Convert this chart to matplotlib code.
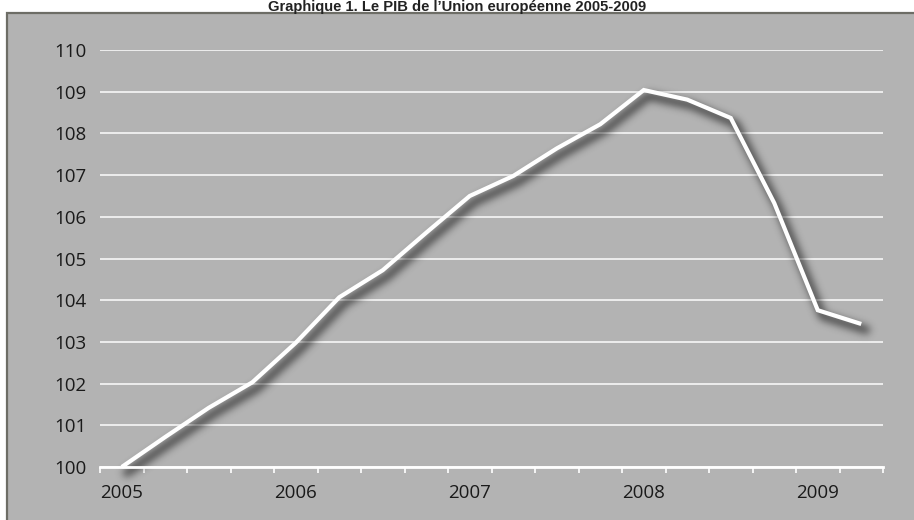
import numpy as np
import matplotlib
matplotlib.use("Agg")
import matplotlib.pyplot as plt
from matplotlib.patches import Rectangle
from matplotlib.ticker import FixedLocator

# Quarterly EU GDP index (2005 Q1 = 100)
quarters = ["2005T1", "2005T2", "2005T3", "2005T4",
            "2006T1", "2006T2", "2006T3", "2006T4",
            "2007T1", "2007T2", "2007T3", "2007T4",
            "2008T1", "2008T2", "2008T3", "2008T4",
            "2009T1", "2009T2"]
gdp_index = [100.0, 100.72, 101.42, 102.03,
             102.98, 104.07, 104.72, 105.62,
             106.50, 106.98, 107.64, 108.22,
             109.04, 108.81, 108.37, 106.33,
             103.76, 103.43]
year_labels = ["2005", "2006", "2007", "2008", "2009"]
y_ticks = [100, 101, 102, 103, 104, 105, 106, 107, 108, 109, 110]

title = "Graphique 1. Le PIB de l\u2019Union européenne 2005-2009"

W, H = 914, 520
fig = plt.figure(figsize=(W / 100, H / 100), dpi=100)
fig.patch.set_facecolor("white")

# grey panel behind the chart
panel = Rectangle((7.5 / W, -0.01), 1.0, (H - 12.5) / H + 0.01,
                  transform=fig.transFigure, facecolor="#b3b3b3",
                  edgecolor="#6d6d66", linewidth=1.6, zorder=-5)
fig.patches.append(panel)

fig.text(0.5, 1 - 11.0 / H, title, ha="center", va="baseline",
         fontsize=10.6, fontweight="bold", family="Liberation Sans",
         color="#222222", zorder=5)

ax = fig.add_axes([100 / W, 53 / H, (883 - 100) / W, (467 - 50) / H])
ax.set_facecolor("none")
ax.set_zorder(1)

# quarter midpoints along a continuous year axis
x = 2005 + (np.arange(len(quarters)) + 0.5) / 4.0


def gaussian_kernel(sigma):
    r = int(3 * sigma)
    t = np.arange(-r, r + 1)
    k = np.exp(-t ** 2 / (2 * sigma ** 2))
    return k / k.sum(), r


class ShadowFilter:
    def __init__(self, sigma_px, dx_px, dy_px, alpha):
        self.sigma = sigma_px
        self.dx = dx_px
        self.dy = dy_px
        self.alpha = alpha

    def __call__(self, im, dpi):
        k, r = gaussian_kernel(self.sigma)
        pad = r + max(abs(self.dx), abs(self.dy)) + 2
        src = np.pad(im, [(pad, pad), (pad, pad), (0, 0)], "constant")
        a = src[:, :, 3]
        a = np.apply_along_axis(lambda v: np.convolve(v, k, mode="same"), 0, a)
        a = np.apply_along_axis(lambda v: np.convolve(v, k, mode="same"), 1, a)
        a = np.roll(a, self.dx, axis=1)
        a = np.roll(a, self.dy, axis=0)
        out = np.zeros_like(src)
        out[:, :, 3] = np.clip(a * self.alpha, 0, 1)
        return out, -pad, -pad


shadow, = ax.plot(x, gdp_index, color="black", linewidth=5.5,
                  solid_joinstyle="round", solid_capstyle="round",
                  clip_on=False, zorder=2)
shadow.set_agg_filter(ShadowFilter(4.0, 5, 6, 0.62))
shadow.set_rasterized(True)

ax.plot(x, gdp_index, color="white", linewidth=3.0,
        solid_joinstyle="miter", solid_capstyle="butt",
        clip_on=False, zorder=3)

ax.set_xlim(2005, 2009.5)
ax.set_ylim(100, 110)

# horizontal grid lines
ax.set_yticks(y_ticks)
ax.set_yticklabels([str(v) for v in y_ticks])
ax.yaxis.grid(True, color="#f2f2f2", linewidth=1.3, zorder=1)
ax.set_axisbelow(True)
ax.tick_params(axis="y", length=0, pad=10, labelsize=13.5,
               labelcolor="#1a1a1a", labelfontfamily="Open Sans")

# year labels at the start of each year, quarterly ticks
year_pos = [2005, 2006, 2007, 2008, 2009]
ax.set_xticks(year_pos)
ax.set_xticklabels(year_labels, ha="left")
ax.xaxis.set_minor_locator(FixedLocator(np.arange(2005, 2009.51, 0.25)))
ax.tick_params(axis="x", which="both", direction="out", length=4.5,
               width=1.2, color="white")
ax.tick_params(axis="x", which="major", pad=8, labelsize=13.5,
               labelcolor="#1a1a1a", labelfontfamily="Open Sans")

for s in ["top", "right", "left"]:
    ax.spines[s].set_visible(False)
ax.spines["bottom"].set_color("white")
ax.spines["bottom"].set_linewidth(2.0)
ax.spines["bottom"].set_zorder(2.5)

fig.savefig("out.png", dpi=100, facecolor="white")
